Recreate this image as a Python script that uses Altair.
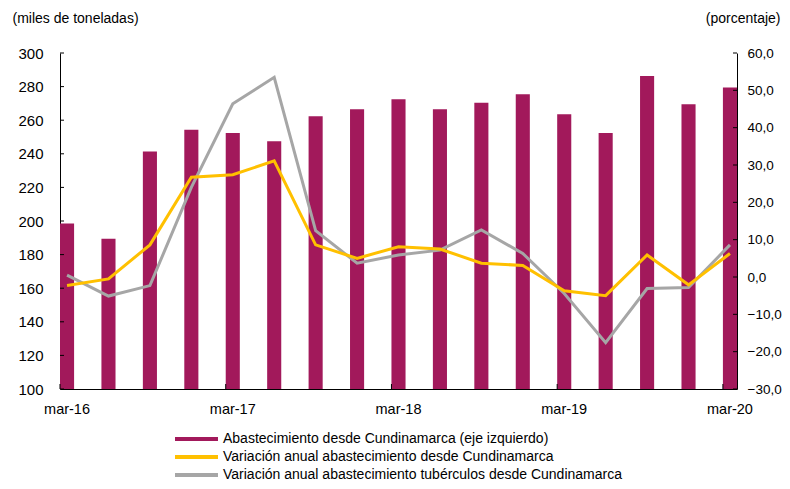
import altair as alt
import pandas as pd

# ---------------- data ----------------
quarters = ["mar-16", "jun-16", "sep-16", "dic-16",
            "mar-17", "jun-17", "sep-17", "dic-17",
            "mar-18", "jun-18", "sep-18", "dic-18",
            "mar-19", "jun-19", "sep-19", "dic-19",
            "mar-20"]
abastecimiento = [198.5, 189.5, 241.3, 254.3, 252.4, 247.4, 262.3, 266.5,
                  272.4, 266.5, 270.4, 275.4, 263.5, 252.4, 286.3, 269.5, 279.4]
var_abastecimiento = [-2.3, -0.5, 8.6, 26.7, 27.4, 31.1, 8.6, 5.0,
                      8.1, 7.5, 3.7, 3.1, -3.7, -5.0, 5.9, -2.1, 6.3]
var_tuberculos = [0.5, -5.1, -2.3, 24.0, 46.4, 53.5, 12.4, 3.7,
                  5.9, 7.2, 12.6, 6.3, -4.4, -17.6, -3.1, -2.8, 8.6]
x_labels = ["mar-16", "mar-17", "mar-18", "mar-19", "mar-20"]
left_ticks = [100, 120, 140, 160, 180, 200, 220, 240, 260, 280, 300]
right_ticks = [-30, -20, -10, 0, 10, 20, 30, 40, 50, 60]
series = ["Abastecimiento desde Cundinamarca (eje izquierdo)",
          "Variación anual abastecimiento desde Cundinamarca",
          "Variación anual abastecimiento tubérculos desde Cundinamarca"]
colors = ["#A2195B", "#FFC000", "#A6A6A6"]

W, H = 677, 336
FONT = "Liberation Sans"

bars_df = pd.DataFrame({"q": quarters, "v": abastecimiento, "s": series[0]})
l1_df = pd.DataFrame({"q": quarters, "v": var_abastecimiento})
l2_df = pd.DataFrame({"q": quarters, "v": var_tuberculos})
xt_df = pd.DataFrame({"q": x_labels})
lt_df = pd.DataFrame({"v": left_ticks})
rt_df = pd.DataFrame({"v": right_ticks})

xscale = alt.Scale(domain=quarters, paddingInner=0.66, paddingOuter=0)
yl_scale = alt.Scale(domain=[100, 300], nice=False, zero=False)
yr_scale = alt.Scale(domain=[-30, 60], nice=False, zero=False)

label_test = "indexof(" + str(x_labels).replace(" ", "") + ", datum.label) >= 0 ? datum.label : ''"

x_axis = alt.Axis(title=None, labelAngle=0, tickSize=0,
                  labelExpr=label_test,
                  labelPadding=13, domainColor="black", labelFontSize=14.5,
                  labelFont=FONT, labelColor="black", labelOverlap=False,
                  labelBound=False, labelFlush=False, grid=False)

left_axis = alt.Axis(values=left_ticks, tickSize=0, labelPadding=17,
                     title="(miles de toneladas)", titleAngle=0,
                     titleAlign="left", titleBaseline="middle",
                     titleX=-48, titleY=-35, titleFontWeight="normal",
                     titleFontSize=14, titleFont=FONT, titleColor="black",
                     labelFontSize=15, labelFont=FONT, labelColor="black",
                     labelOverlap=False, domainColor="black", grid=False)

right_axis = alt.Axis(values=right_ticks, orient="right", tickSize=0,
                      labelPadding=10,
                      labelExpr="replace(format(datum.value, '.1f'), '.', ',')",
                      title="(porcentaje)", titleAngle=0, titleAlign="right",
                      titleBaseline="middle", titleX=43, titleY=-35,
                      titleFontWeight="normal", titleFontSize=14,
                      titleFont=FONT, titleColor="black", labelFontSize=13.5,
                      labelFont=FONT, labelColor="black", labelOverlap=False,
                      domainColor="black", grid=False)

bars = alt.Chart(bars_df).mark_bar(clip=True).encode(
    x=alt.X("q:N", scale=xscale, sort=quarters, axis=x_axis),
    y=alt.Y("v:Q", scale=yl_scale, axis=left_axis),
    y2=alt.Y2(datum=100),
    color=alt.Color("s:N", scale=alt.Scale(domain=series, range=colors),
                    legend=alt.Legend(
                        title=None, orient="none", legendX=129.5, legendY=379,
                        symbolType="M-3.07,-0.3H3.07V0.3H-3.07Z", symbolSize=196,
                        symbolStrokeWidth=0, labelFontSize=14, labelFont=FONT,
                        labelColor="black", labelOffset=19.5, rowPadding=4,
                        labelLimit=600, padding=0)),
)

left_ticks_layer = alt.Chart(lt_df).mark_rule(color="black", strokeWidth=1).encode(
    y=alt.Y("v:Q", scale=yl_scale, axis=left_axis), x=alt.value(0), x2=alt.value(4))

x_ticks_layer = alt.Chart(xt_df).mark_rule(color="black", strokeWidth=1).encode(
    x=alt.X("q:N", scale=xscale, sort=quarters, bandPosition=0, axis=x_axis),
    y=alt.value(H), y2=alt.value(H - 5))

left = alt.layer(bars, left_ticks_layer, x_ticks_layer)

line1 = alt.Chart(l1_df).mark_line(color=colors[1], strokeWidth=3).encode(
    x=alt.X("q:N", scale=xscale, sort=quarters, axis=x_axis),
    y=alt.Y("v:Q", scale=yr_scale, axis=right_axis))
line2 = alt.Chart(l2_df).mark_line(color=colors[2], strokeWidth=3).encode(
    x=alt.X("q:N", scale=xscale, sort=quarters, axis=x_axis),
    y=alt.Y("v:Q", scale=yr_scale, axis=right_axis))
right_ticks_layer = alt.Chart(rt_df).mark_rule(color="black", strokeWidth=1).encode(
    y=alt.Y("v:Q", scale=yr_scale, axis=right_axis),
    x=alt.value(W - 4), x2=alt.value(W))

right = alt.layer(line2, line1, right_ticks_layer)

chart = alt.layer(left, right).resolve_scale(y="independent").properties(
    width=W, height=H,
    padding={"left": 52, "top": 45, "right": 45, "bottom": 92},
    autosize=alt.AutoSizeParams(type="none"),
).configure_view(stroke=None).configure_axis(grid=False)

chart.save("out.html", embed_options={"renderer": "svg", "actions": False})
